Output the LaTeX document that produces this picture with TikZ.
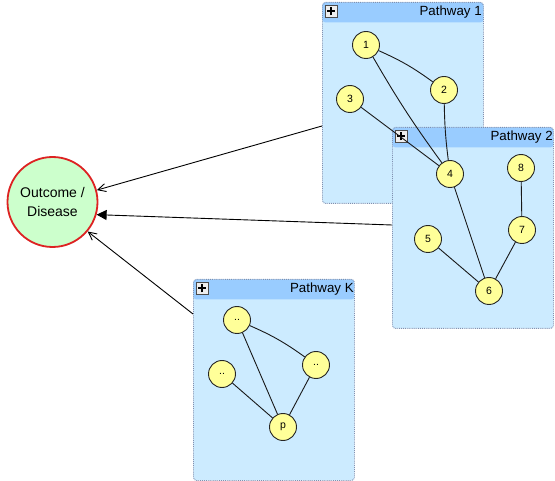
\documentclass[tikz,border=0pt]{standalone}
\usepackage{fontspec}
\setmainfont{Liberation Sans}
\usetikzlibrary{arrows.meta}
\definecolor{pwbody}{HTML}{CCEBFF}
\definecolor{pwhead}{HTML}{99CCFF}
\definecolor{pwborder}{HTML}{8090B0}
\definecolor{gnfill}{HTML}{FFFF99}
\definecolor{outfill}{HTML}{CCFFCC}
\definecolor{outline}{HTML}{DD2222}
\definecolor{btnfill}{HTML}{EEEEEE}
\tikzset{
  pwbox/.style={draw=pwborder, densely dotted, line width=0.9pt, rounded corners=3pt,
    fill=pwbody, minimum width=161pt, minimum height=201pt, inner sep=0pt, anchor=north west,
    path picture={\fill[pwhead] (path picture bounding box.north west) rectangle
      ([yshift=-20pt]path picture bounding box.north east);}},
  pwtitle/.style={font=\fontsize{13.3}{14}\selectfont, anchor=east, inner sep=0pt},
  plusbtn/.style={draw=black!70, fill=btnfill, line width=0.6pt, minimum size=12pt, inner sep=0pt,
    anchor=north west,
    path picture={\draw[line width=1.8pt, black]
      ([xshift=-4pt]path picture bounding box.center) -- ([xshift=4pt]path picture bounding box.center)
      ([yshift=-4pt]path picture bounding box.center) -- ([yshift=4pt]path picture bounding box.center);}},
  gn/.style={circle, draw=black!85, fill=gnfill, line width=0.9pt, minimum size=27pt, inner sep=0pt,
    font=\fontsize{10.5}{11}\selectfont},
  ge/.style={draw=black!90, line width=0.9pt},
  outnode/.style={circle, draw=outline, fill=outfill, line width=1.8pt, minimum size=90pt, inner sep=0pt,
    align=center, font=\fontsize{14}{19}\selectfont},
  arrbarb/.style={draw=black, line width=0.9pt, -{Straight Barb[length=8pt,width=8pt]}},
  arrtri/.style={draw=black, line width=0.9pt, -{Triangle[length=10pt,width=10pt]}},
}
\begin{document}
\begin{tikzpicture}[x=1pt,y=-1pt]
\useasboundingbox (0,0) rectangle (555,481);
% pathway boxes
\node[pwbox] (P1) at (322,2) {};
\node[pwbox] (P2) at (392,127) {};
\node[pwbox] (PK) at (193,279) {};
\node[pwtitle] (P1t) at ([xshift=-2pt,yshift=-10pt]P1.north east) {Pathway 1};
\node[pwtitle] (P2t) at ([xshift=-1pt,yshift=-10pt]P2.north east) {Pathway 2};
\node[pwtitle] (PKt) at ([xshift=-1pt,yshift=-10pt]PK.north east) {Pathway K};
\node[plusbtn] (P1b) at ([xshift=3pt,yshift=-3pt]P1.north west) {};
\node[plusbtn] (P2b) at ([xshift=3pt,yshift=-3pt]P2.north west) {};
\node[plusbtn] (PKb) at ([xshift=3pt,yshift=-3pt]PK.north west) {};
% gene nodes
\node[gn] (n1) at (366,45) {1};
\node[gn] (n2) at (444,90) {2};
\node[gn] (n3) at (350,99) {3};
\node[gn] (n4) at (450,174) {4};
\node[gn] (n8) at (521,168) {8};
\node[gn] (n7) at (522,230) {7};
\node[gn] (n5) at (428,239) {5};
\node[gn] (n6) at (489,291) {6};
\node[gn] (k1) at (237,320) {..};
\node[gn] (k2) at (316,365) {..};
\node[gn] (k3) at (222,374) {..};
\node[gn] (kp) at (283,427) {p};
% edges
\draw[ge] (n1) to[bend left=6] (n2);
\draw[ge] (n1) to[bend right=3] (n4);
\draw[ge] (n2) to[bend right=3] (n4);
\draw[ge] (n3) -- (n4);
\draw[ge] (n4) -- (n6);
\draw[ge] (n5) -- (n6);
\draw[ge] (n7) -- (n6);
\draw[ge] (n8) -- (n7);
\draw[ge] (k1) to[bend left=6] (k2);
\draw[ge] (k1) -- (kp);
\draw[ge] (k3) -- (kp);
\draw[ge] (k2) -- (kp);
% outcome
\node[outnode] (out) at (52.5,202) {Outcome /\\Disease};
\coordinate (a1) at (322,126);
\coordinate (a2) at (392,225);
\coordinate (a3) at (193,314);
\draw[arrbarb] (a1) -- (out.15);
\draw[arrtri] (a2) -- (out.-16);
\draw[arrbarb] (a3) -- (out.-40);
\end{tikzpicture}
\end{document}
